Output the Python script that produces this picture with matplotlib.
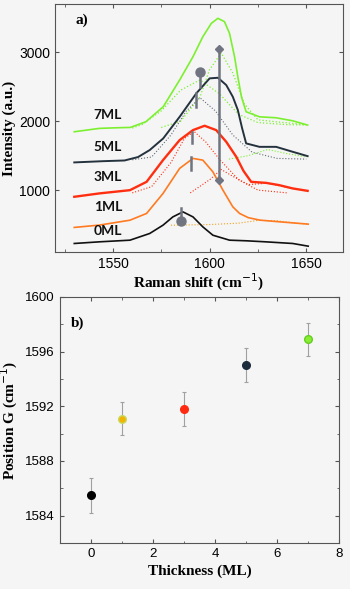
import numpy as np
import matplotlib
matplotlib.use('Agg')
import matplotlib.pyplot as plt
from matplotlib.ticker import MultipleLocator

# ---- panel a: Raman spectra ----
x_7ml = [1530, 1543, 1552, 1559, 1567, 1576, 1584.5, 1591.4, 1596.5, 1600.9, 1604.3, 1607.7,
         1610.3, 1612.9, 1614.6, 1616.5, 1618.9, 1625.8, 1634.4, 1643, 1650.7]
y_7ml = [1847, 1896, 1905, 1910, 1992, 2210, 2598, 2936, 3227, 3421, 3494, 3445,
         3276, 2936, 2645, 2350, 2137, 2064, 2050, 2006, 1944]
x_5ml = [1530, 1545, 1556, 1563, 1569, 1576, 1584.5, 1593.1, 1600, 1604.3, 1608.6, 1612,
         1614.6, 1616.8, 1618.9, 1625.8, 1634.4, 1643, 1650.7]
y_5ml = [1402, 1420, 1430, 1480, 1581, 1750, 2064, 2404, 2622, 2631, 2525, 2355,
         2162, 1900, 1678, 1628, 1628, 1556, 1493]
x_3ml = [1530, 1543, 1558.8, 1567.4, 1575.9, 1584.5, 1591.4, 1597.4, 1603.4, 1608.6, 1613.8,
         1617.5, 1621.5, 1629.2, 1636, 1643, 1650.7]
y_3ml = [903, 952, 999, 1120, 1435, 1726, 1871, 1934, 1871, 1701, 1483, 1280, 1120, 1105,
         1072, 1024, 989]
x_1ml = [1530, 1543, 1558.8, 1567.4, 1575.9, 1584.5, 1591.4, 1596.5, 1601.7, 1606.9, 1612,
         1615.5, 1620, 1626, 1636, 1651]
y_1ml = [458, 492, 563, 661, 951, 1315, 1460, 1435, 1265, 999, 757, 661, 600, 564, 540, 506]
x_0ml = [1530, 1543, 1558.8, 1569, 1575.9, 1581, 1586.2, 1591.4, 1596.5, 1601.7, 1610.3, 1619,
         1629, 1643, 1651]
y_0ml = [225, 249, 273, 370, 491, 611, 684, 611, 466, 345, 273, 264, 249, 225, 186]

# fitted components (dotted)
fx_7a = [1560, 1565, 1575, 1585, 1595, 1605, 1615, 1625, 1640, 1650]
fy_7a = [1900, 1950, 2150, 2450, 2600, 2400, 2100, 1980, 1950, 1945]
fx_7b = [1575, 1585, 1595, 1600, 1606, 1612, 1618, 1625, 1635, 1650]
fy_7b = [1910, 2000, 2350, 2750, 2990, 2700, 2250, 2020, 1990, 1950]
fx_5a = [1560, 1570, 1580, 1588, 1595, 1603, 1612, 1622, 1635, 1650]
fy_5a = [1440, 1480, 1800, 2150, 2340, 2150, 1800, 1550, 1460, 1450]
fx_5b = [1610, 1620, 1630, 1640, 1650]
fy_5b = [1450, 1500, 1590, 1530, 1480]
fx_3a = [1560, 1570, 1580, 1587, 1592, 1598, 1605, 1615, 1625, 1640]
fy_3a = [960, 1050, 1400, 1750, 1850, 1700, 1450, 1150, 1000, 960]
fx_3b = [1590, 1600, 1606, 1612, 1620, 1630, 1640, 1650]
fy_3b = [960, 1150, 1300, 1200, 1080, 1100, 1040, 990]
fx_1a = [1580, 1590, 1600, 1615, 1625, 1635, 1645, 1651]
fy_1a = [490, 495, 500, 520, 560, 555, 520, 505]

labels_ml = ['7ML', '5ML', '3ML', '1ML', '0ML']
label_y = [2000, 1540, 1100, 665, 325]

# G position markers
g_long_x = [1605, 1605]
g_long_y = [3044, 1145]
g_ticks_x = [1593, 1591, 1590.5, 1585]
g_ticks_lo = [2211, 1678, 1290, 560]
g_ticks_hi = [2404, 1847, 1484, 740]
g_circle_x = [1595, 1585]
g_circle_y = [2719, 554]
g_stem_x = [1595, 1595]
g_stem_y = [2719, 2501]

# ---- panel b: G position vs thickness ----
thick = [0, 1, 3, 5, 7]
pos_g = [1585.5, 1591.1, 1591.8, 1595.0, 1596.9]
pos_err = [1.28, 1.22, 1.22, 1.25, 1.22]
pt_colors = ['#000000', '#f2b400', '#ff2a10', '#1c2c3c', '#88ee33']
pt_edges = ['#000000', '#c8d860', '#ff2a10', '#1c2c3c', '#66cc22']

c_green = '#7cf030'
c_dark = '#24323e'
c_red = '#ff2e10'
c_orange = '#ff7a20'
c_black = '#111111'
c_gray = '#6f7480'
bg = '#f5f5f5'

plt.rcParams['font.family'] = ['Liberation Sans', 'DejaVu Sans']
fig = plt.figure(figsize=(3.5, 5.89), dpi=100, facecolor=bg)

# ---------------- panel a ----------------
ax = fig.add_axes([0.157, 0.572, 0.823, 0.421], facecolor=bg)
ax.plot(fx_7a, fy_7a, ':', color=c_green, lw=0.9)
ax.plot(fx_7b, fy_7b, ':', color=c_green, lw=0.9)
ax.plot(fx_5a, fy_5a, ':', color=c_dark, lw=0.8, alpha=0.7)
ax.plot(fx_5b, fy_5b, ':', color=c_green, lw=0.8)
ax.plot(fx_3a, fy_3a, ':', color=c_red, lw=0.8)
ax.plot(fx_3b, fy_3b, ':', color=c_red, lw=0.8)
ax.plot(fx_1a, fy_1a, ':', color='#f0a020', lw=0.8)

ax.plot(x_7ml, y_7ml, color=c_green, lw=1.2)
ax.plot(x_5ml, y_5ml, color=c_dark, lw=1.4)
ax.plot(x_3ml, y_3ml, color=c_red, lw=1.7)
ax.plot(x_1ml, y_1ml, color=c_orange, lw=1.2)
ax.plot(x_0ml, y_0ml, color=c_black, lw=1.2)

for lab, ly in zip(labels_ml, label_y):
    ax.text(1540, ly, lab, fontsize=10, fontweight='bold', family=['Lato', 'DejaVu Sans'],
            color='#111111', va='bottom', ha='left')

ax.plot(g_long_x, g_long_y, '-', color=c_gray, lw=1.8)
ax.plot(g_long_x, g_long_y, 'D', color=c_gray, ms=4)
for gx, lo, hi in zip(g_ticks_x, g_ticks_lo, g_ticks_hi):
    ax.plot([gx, gx], [lo, hi], '-', color=c_gray, lw=1.8)
ax.plot(g_stem_x, g_stem_y, '-', color=c_gray, lw=1.8)
ax.plot(g_circle_x, g_circle_y, 'o', color=c_gray, ms=6.5)

ax.set_xlim(1520, 1669)
ax.set_ylim(100, 3700)
ax.set_xticks([1550, 1600, 1650])
ax.xaxis.set_minor_locator(MultipleLocator(25))
ax.set_yticks([1000, 2000, 3000])
ax.tick_params(direction='in', top=True, right=True, labelsize=10, length=3, color='#555555')
ax.tick_params(which='minor', direction='in', top=True, length=2, color='#555555')
for s in ax.spines.values():
    s.set_color('#555555')
    s.set_linewidth(0.8)
ax.set_xlabel('Raman shift (cm$^{-1}$)', family='Liberation Serif', fontweight='bold', fontsize=11, labelpad=1)
ax.set_ylabel('Intensity (a.u.)', family='Liberation Serif', fontweight='bold', fontsize=11, labelpad=2)
ax.text(0.07, 0.92, 'a)', transform=ax.transAxes, family='Liberation Serif', fontweight='bold', fontsize=11)

# ---------------- panel b ----------------
bx = fig.add_axes([0.171, 0.078, 0.798, 0.418], facecolor=bg)
for t, p, e, fc, ec in zip(thick, pos_g, pos_err, pt_colors, pt_edges):
    bx.errorbar(t, p, yerr=e, fmt='o', ms=5.5, mfc=fc, mec=ec, ecolor='#a0a0a0',
                elinewidth=0.8, capsize=1.2, capthick=0.8)
bx.set_xlim(-1, 8)
bx.set_ylim(1582, 1600)
bx.set_xticks([0, 2, 4, 6, 8])
bx.set_yticks([1584, 1588, 1592, 1596, 1600])
bx.xaxis.set_minor_locator(MultipleLocator(1))
bx.yaxis.set_minor_locator(MultipleLocator(2))
bx.tick_params(direction='in', top=True, right=True, labelsize=9.5, length=3, color='#555555')
bx.tick_params(which='minor', direction='in', top=True, right=True, length=1.8, color='#555555')
for s in bx.spines.values():
    s.set_color('#555555')
    s.set_linewidth(0.8)
bx.set_xlabel('Thickness (ML)', family='Liberation Serif', fontweight='bold', fontsize=11, labelpad=3)
bx.set_ylabel('Position G (cm$^{-1}$)', family='Liberation Serif', fontweight='bold', fontsize=11, labelpad=4)
bx.text(0.04, 0.88, 'b)', transform=bx.transAxes, family='Liberation Serif', fontweight='bold', fontsize=11)

fig.savefig('out.png', dpi=100, facecolor=bg)
